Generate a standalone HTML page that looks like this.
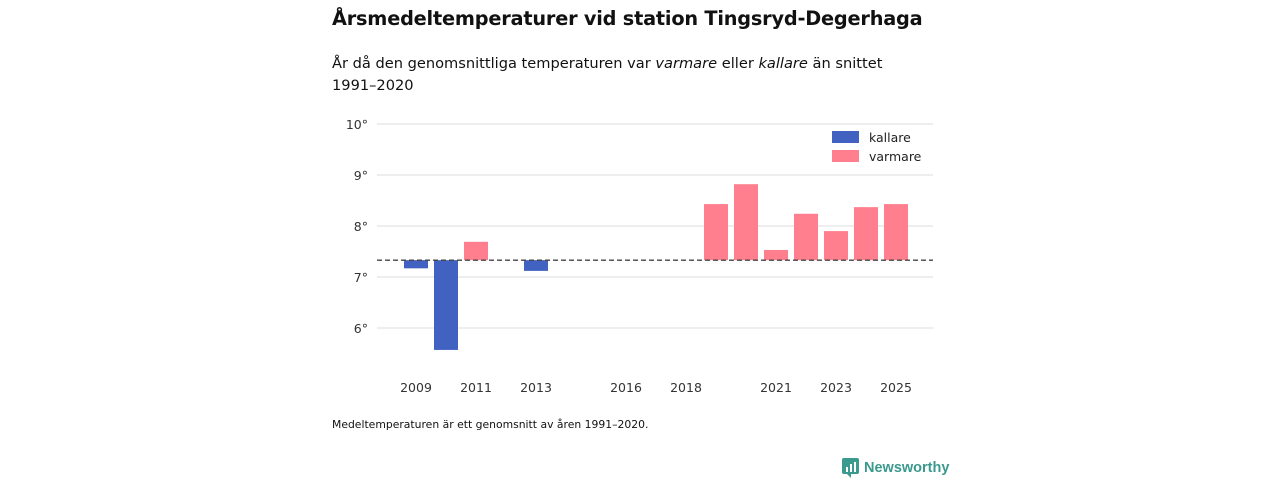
<!DOCTYPE html>
<html><head><meta charset="utf-8">
<style>
body{margin:0;width:1280px;height:480px;background:#fff;font-family:"DejaVu Sans","Liberation Sans",sans-serif;color:#111;position:relative;overflow:hidden}
.t{position:absolute;left:332px;top:7px;font-size:19.3px;font-weight:bold;letter-spacing:-0.2px}
.s{position:absolute;left:332px;top:53px;font-size:14.6px;line-height:22px;width:620px}
.f{position:absolute;left:332px;top:418px;font-size:10.8px}
.logo{position:absolute;left:842px;top:458px;color:#3a9a8e;display:flex;align-items:center;gap:5px}
</style></head><body>
<div class="t">Årsmedeltemperaturer vid station Tingsryd-Degerhaga</div>
<div class="s">År då den genomsnittliga temperaturen var <i>varmare</i> eller <i>kallare</i> än snittet<br>1991–2020</div>
<svg id="c" width="1280" height="480" style="position:absolute;left:0;top:0"></svg>
<div class="f">Medeltemperaturen är ett genomsnitt av åren 1991–2020.</div>
<div class="logo"><svg width="17" height="20" viewBox="0 0 17 20"><rect x="0" y="0" width="17" height="16" rx="2" fill="#3a9a8e"/><path d="M5 16 L9 20 L9 16Z" fill="#3a9a8e"/><rect x="4" y="9" width="2" height="5" fill="#fff"/><rect x="8" y="6" width="2" height="8" fill="#fff"/><rect x="12" y="4" width="2" height="10" fill="#fff"/></svg><span style="font-weight:bold;font-family:'Liberation Sans',sans-serif;font-size:14.5px">Newsworthy</span></div>
<script>
const years=[2009,2010,2011,2013,2019,2020,2021,2022,2023,2024,2025];
const temps=[7.17,5.57,7.69,7.12,8.43,8.82,7.53,8.24,7.90,8.37,8.43];
const baseline=7.33;
const yTicks=[6,7,8,9,10];
const yTickLabels=["6°","7°","8°","9°","10°"];
const xTicks=[2009,2011,2013,2016,2018,2021,2023,2025];
const NS="http://www.w3.org/2000/svg";
const svg=document.getElementById('c');
const x=yr=>416+(yr-2009)*30;
const y=v=>277-(v-7)*51;
function el(t,a){const e=document.createElementNS(NS,t);for(const k in a)e.setAttribute(k,a[k]);svg.appendChild(e);return e;}
yTicks.forEach((v,i)=>{
  const g=el('line',{x1:377,x2:933,y1:y(v),y2:y(v),stroke:'#ddd','stroke-width':1});
  
  
  const t=el('text',{x:368,y:y(v)+5,'text-anchor':'end','font-size':12.5,fill:'#333'});
  t.textContent=yTickLabels[i];
  
  
});
xTicks.forEach(v=>{
  const t=el('text',{x:x(v),y:392,'text-anchor':'middle','font-size':12.5,fill:'#333'});
  t.textContent=v;
  
  
});
years.forEach((yr,i)=>{
  const v=temps[i],warm=v>baseline;
  const r=el('rect',{x:x(yr)-12,width:24,y:Math.min(y(v),y(baseline)),height:Math.abs(y(v)-y(baseline)),fill:warm?'#ff7f8e':'#4262c2'});
  
  
});
const bl=el('line',{x1:377,x2:933,y1:y(baseline),y2:y(baseline),stroke:'#444','stroke-width':1.3,'stroke-dasharray':'5,3'});


[['kallare','#4262c2',131],['varmare','#ff7f8e',150]].forEach(([n,c,yy])=>{
  const r=el('rect',{x:832,y:yy,width:27,height:12,fill:c});
  
  
  const t=el('text',{x:869,y:yy+11,'font-size':12.5,fill:'#222'});
  t.textContent=n;
  
  
});
</script>
</body></html>
